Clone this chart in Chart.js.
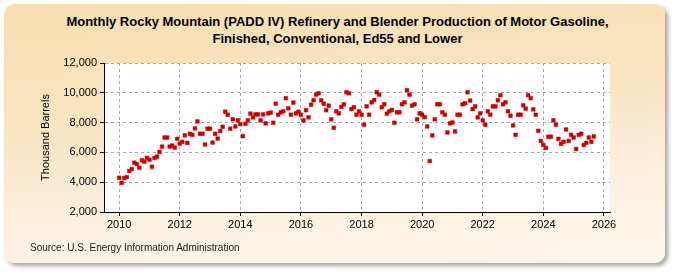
<!DOCTYPE html>
<html lang="en">
<head>
    <meta charset="UTF-8">
    <title>Rocky Mountain Motor Gasoline Production</title>
    <script src="https://cdn.jsdelivr.net/npm/chart.js@4.4.1/dist/chart.umd.min.js"></script>
    <style>
        html, body { margin: 0; padding: 0; background: #fff; }
        #wrap { position: relative; width: 675px; height: 275px; overflow: hidden; font-family: "Liberation Sans", Arial, sans-serif; }
        #panel {
            position: absolute; left: 4px; top: 4px; width: 661px; height: 259px;
            border-radius: 10px;
            background: linear-gradient(175deg, #f8deb1 0%, #f9e4c2 40%, #fcf1e2 75%, #fdf6ed 100%);
            box-shadow: 3px 3px 4px rgba(0,0,0,0.35);
        }
        #title { position: absolute; left: 0; width: 675px; top: 13px; text-align: center; font-weight: bold; font-size: 13px; line-height: 17px; color: #000; }
        #source { position: absolute; left: 30px; top: 242px; font-size: 10px; color: #222; }
        #chart { position: absolute; left: 0; top: 0; }
    </style>
</head>
<body>
<div id="wrap">
    <div id="panel"></div>
    <div id="title">Monthly Rocky Mountain (PADD IV) Refinery and Blender Production of Motor Gasoline,<br>Finished, Conventional, Ed55 and Lower</div>
    <canvas id="chart" width="675" height="275"></canvas>
    <div id="source">Source: U.S. Energy Information Administration</div>
</div>

<script>
    // Datos: primer mes y valores mensuales (miles de barriles)
    const firstYear = 2010;
    const production = [
        4300, 3960, 4280, 4340, 4750, 4880, 5310, 5220, 4970, 5470, 5380, 5630, // 2010
        5510, 5040, 5630, 5720, 6030, 6390, 7000, 7000, 6390, 6460, 6320, 6910, // 2011
        6590, 6710, 7140, 6640, 7250, 7180, 7610, 8080, 7250, 7250, 6530, 7590, // 2012
        7590, 6660, 7250, 6930, 7430, 7720, 8730, 8530, 7590, 8220, 7740, 8150, // 2013
        7900, 7090, 7920, 8150, 8600, 8350, 8550, 8550, 8150, 8550, 7950, 8620, // 2014
        8670, 7990, 9270, 8530, 8690, 8760, 9640, 8960, 8530, 9340, 8620, 8730, // 2015
        8530, 8150, 8830, 8350, 9200, 9500, 9880, 9970, 9500, 9270, 8830, 9140, // 2016
        8220, 7650, 8760, 8620, 9050, 9230, 10040, 9970, 8910, 9030, 8530, 8760, // 2017
        8530, 7860, 9090, 8530, 9360, 9520, 10040, 9880, 9030, 9230, 8600, 8760, // 2018
        8850, 7990, 8690, 8690, 9230, 9360, 10180, 9880, 9140, 9230, 8220, 8620, // 2019
        8530, 8370, 7740, 5420, 7140, 8220, 9230, 9230, 8690, 8530, 7340, 7950, // 2020
        8010, 7410, 8530, 8530, 9230, 9300, 10040, 9480, 8910, 9090, 8350, 8620, // 2021
        8150, 7860, 8760, 8530, 9090, 9090, 9500, 9840, 9230, 9360, 8760, 8460, // 2022
        7810, 7180, 8530, 8530, 9160, 8940, 9840, 9640, 8890, 8530, 7450, 6770, // 2023
        6500, 6300, 7050, 7050, 8150, 7860, 6910, 6570, 6710, 7540, 6770, 7180, // 2024
        7000, 6230, 7180, 7250, 6500, 6640, 7000, 6710, 7070                    // 2025
    ];
    const xTicks = [2010, 2012, 2014, 2016, 2018, 2020, 2022, 2024, 2026];
    const yTicks = [2000, 4000, 6000, 8000, 10000, 12000];

    const points = production.map((v, i) => ({ x: firstYear + i / 12, y: v }));

    // fondo blanco del area de trazado
    const plotBg = {
        id: 'plotBg',
        beforeDraw(chart) {
            const a = chart.chartArea;
            chart.ctx.save();
            chart.ctx.fillStyle = '#ffffff';
            chart.ctx.fillRect(a.left, a.top, a.right - a.left, a.bottom - a.top);
            chart.ctx.restore();
        }
    };

    const tickFont = { family: '"Liberation Sans", Arial, sans-serif', size: 11 };

    new Chart(document.getElementById('chart'), {
        type: 'scatter',
        data: {
            datasets: [{
                data: points,
                pointStyle: 'rect',
                pointRadius: 2.6,
                backgroundColor: '#cc0000',
                borderColor: '#c00000',
                borderWidth: 0.5
            }]
        },
        options: {
            responsive: false,
            animation: false,
            events: [],
            layout: { padding: { left: 39, right: 65, top: 63, bottom: 43 } },
            plugins: { legend: { display: false }, tooltip: { enabled: false } },
            scales: {
                x: {
                    type: 'linear',
                    min: 2009.5,
                    max: 2026.2,
                    afterBuildTicks: s => { s.ticks = xTicks.map(v => ({ value: v })); },
                    afterFit: s => { s.height = 20; },
                    ticks: { font: tickFont, color: '#000', padding: 2, maxRotation: 0, callback: v => String(v) },
                    grid: { color: '#aaaaaa', tickColor: '#000', tickLength: 4, tickBorderDash: [] },
                    border: { display: true, color: '#000', width: 1, dash: [3, 3] }
                },
                y: {
                    min: 2000,
                    max: 12000,
                    afterBuildTicks: s => { s.ticks = yTicks.map(v => ({ value: v })); },
                    afterFit: s => { s.width = 65; },
                    ticks: { font: tickFont, color: '#000', padding: 3, callback: v => v.toLocaleString('en-US') },
                    grid: { color: '#aaaaaa', tickColor: '#000', tickLength: 4, tickBorderDash: [] },
                    border: { display: true, color: '#000', width: 1, dash: [3, 3] },
                    title: { display: true, text: 'Thousand Barrels', font: tickFont, color: '#000', padding: 0 }
                }
            }
        },
        plugins: [plotBg]
    });
</script>
</body>
</html>
